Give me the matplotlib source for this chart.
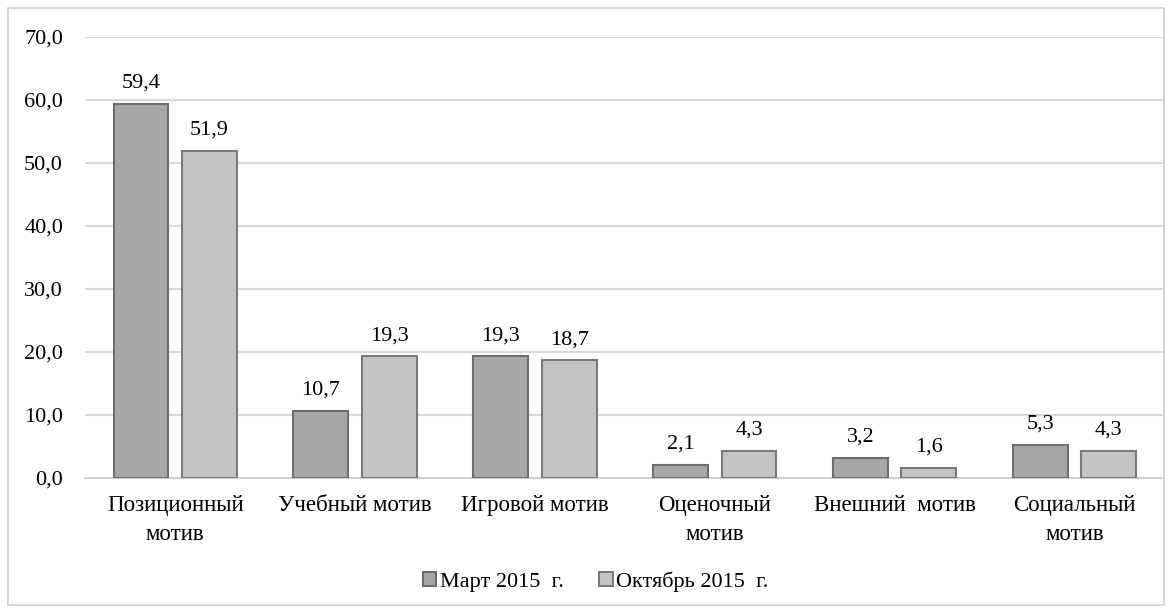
import numpy as np
import matplotlib.pyplot as plt
import matplotlib.patches as patches

# Данные
categories = ['Позиционный\nмотив', 'Учебный мотив', 'Игровой мотив',
              'Оценочный\nмотив', 'Внешний  мотив', 'Социальный\nмотив']
march = [59.4, 10.7, 19.3, 2.1, 3.2, 5.3]
october = [51.9, 19.3, 18.7, 4.3, 1.6, 4.3]
series_names = ['Март 2015  г.', 'Октябрь 2015  г.']

plt.rcParams['font.family'] = ['Liberation Serif', 'DejaVu Serif']

fig = plt.figure(figsize=(11.68, 6.12), dpi=100)
ax = fig.add_axes([0.073, 0.219, 0.924, 0.7206])

# Рамка вокруг рисунка
fig.patches.append(patches.Rectangle((0.007, 0.012), 0.99, 0.975, transform=fig.transFigure,
                                     fill=False, edgecolor='#d0d0d0', linewidth=1.2))

x = np.arange(len(categories))
w = 0.305
off = 0.19
b1 = ax.bar(x - off, march, w, color='#a6a6a6', edgecolor='#6e6e6e', linewidth=1.5,
            label=series_names[0], zorder=3)
b2 = ax.bar(x + off, october, w, color='#c4c4c4', edgecolor='#7a7a7a', linewidth=1.5,
            label=series_names[1], zorder=3)

for bars, vals in ((b1, march), (b2, october)):
    for rect, v in zip(bars, vals):
        ax.annotate(f'{v:.1f}'.replace('.', ','),
                    (rect.get_x() + rect.get_width() / 2, v),
                    xytext=(0, 8), textcoords='offset points',
                    ha='center', va='bottom', fontsize=16)

ax.set_xlim(-0.5, len(categories) - 0.5)
ax.set_ylim(0, 70)
ax.set_yticks(np.arange(0, 71, 10))
ax.set_yticklabels([f'{v:.1f}'.replace('.', ',') for v in np.arange(0, 71, 10)], fontsize=16)
ax.set_xticks(x)
ax.set_xticklabels(categories, fontsize=16.5, linespacing=1.55)
ax.tick_params(axis='both', length=0)
ax.tick_params(axis='x', pad=12)
ax.tick_params(axis='y', pad=16)
ax.yaxis.grid(True, color='#d9d9d9', linewidth=1.5, zorder=0)
for s in ['left', 'right', 'top']:
    ax.spines[s].set_visible(False)
ax.spines['bottom'].set_color('#d0d0d0')
ax.spines['bottom'].set_linewidth(1.5)

fig.legend(handles=[b1, b2], loc='center', bbox_to_anchor=(0.51, 0.049), ncol=2,
           frameon=False, fontsize=16, handlelength=0.6, handleheight=0.6,
           handletextpad=0.15, columnspacing=1.6)

fig.savefig('out.png', dpi=100)
